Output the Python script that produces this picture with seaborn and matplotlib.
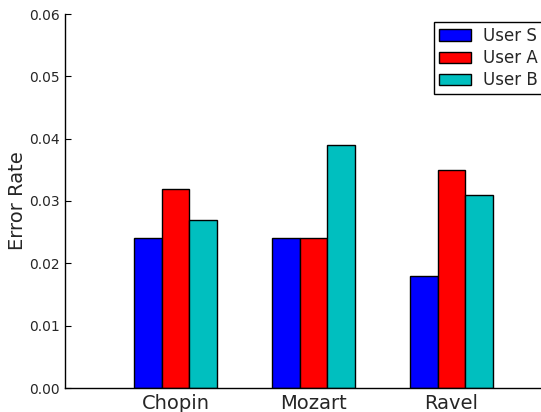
import pandas as pd
import numpy as np
import matplotlib
matplotlib.use("Agg")
import matplotlib.pyplot as plt
import seaborn as sns

# error rates per composer
composers = ["Chopin", "Mozart", "Ravel"]
users = ["User S", "User A", "User B"]
user_s = [0.024, 0.024, 0.018]
user_a = [0.032, 0.024, 0.035]
user_b = [0.027, 0.039, 0.031]
colors = ["#0000ff", "#ff0000", "#00bfbf"]

df = pd.DataFrame({
    "composer": composers * 3,
    "user": [u for u in users for _ in composers],
    "rate": user_s + user_a + user_b,
})

sns.set_style("white")
plt.rcParams["font.family"] = ["DejaVu Sans"]

fig = plt.figure(figsize=(5.41, 4.12), dpi=100)
ax = fig.add_axes([65 / 541, 24 / 412, 497 / 541, 374 / 412])

sns.barplot(data=df, x="composer", y="rate", hue="user", order=composers,
            hue_order=users, palette=colors, width=0.6, edgecolor="black",
            linewidth=1, saturation=1, ax=ax)

ax.set_xlim(-0.8, 2.8)
ax.set_ylim(0, 0.06)
ax.set_yticks(np.arange(0, 0.061, 0.01))
ax.set_yticklabels([f"{v:.2f}" for v in np.arange(0, 0.061, 0.01)], fontsize=10)
ax.set_xticks(range(len(composers)))
ax.set_xticklabels(composers, fontsize=14)
ax.tick_params(axis="both", direction="in", length=4, width=0.8, color="black",
               bottom=True, left=True)
ax.tick_params(axis="x", pad=4)
ax.set_xlabel("")
ax.set_ylabel("Error Rate", fontsize=14, labelpad=2)

for side in ["top", "right"]:
    ax.spines[side].set_visible(False)
for side in ["left", "bottom"]:
    ax.spines[side].set_color("black")
    ax.spines[side].set_linewidth(1)

ax.legend(loc="upper left", bbox_to_anchor=(434 / 541, 1 - 22 / 412),
          bbox_transform=fig.transFigure, borderaxespad=0, fontsize=12,
          fancybox=False, framealpha=1, edgecolor="black", handlelength=1.9,
          handleheight=0.7, handletextpad=0.75, labelspacing=0.25, borderpad=0.3)

fig.savefig("out.png", dpi=100)
